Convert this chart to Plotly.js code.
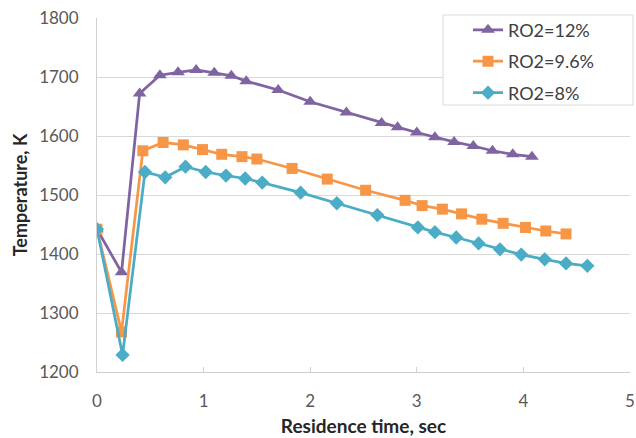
<!DOCTYPE html>
<html>
<head>
<meta charset="utf-8">
<script src="https://cdn.plot.ly/plotly-3.0.1.min.js"></script>
<style>html,body{margin:0;padding:0;background:#fff;}#chart{width:636px;height:438px;}</style>
</head>
<body>
<div id="chart"></div>
<script>
// RO2 = 12%
const x12 = [0, 0.23, 0.40, 0.59, 0.76, 0.93, 1.10, 1.26, 1.40, 1.70, 2.00, 2.34, 2.67, 2.82, 3.00, 3.17, 3.35, 3.53, 3.71, 3.90, 4.08];
const t12 = [1442, 1369, 1672, 1703, 1708, 1712, 1707, 1702, 1693, 1678, 1658, 1640, 1622, 1615, 1606, 1598, 1590, 1583, 1575, 1569, 1565];
// RO2 = 9.6%
const x96 = [0, 0.23, 0.43, 0.62, 0.81, 0.99, 1.17, 1.36, 1.50, 1.83, 2.16, 2.52, 2.89, 3.05, 3.24, 3.42, 3.61, 3.81, 4.02, 4.21, 4.40];
const t96 = [1442, 1268, 1575, 1589, 1585, 1577, 1569, 1565, 1561, 1545, 1527, 1508, 1491, 1482, 1476, 1468, 1459, 1452, 1445, 1439, 1434];
// RO2 = 8%
const x8 = [0, 0.24, 0.45, 0.64, 0.83, 1.02, 1.21, 1.39, 1.55, 1.91, 2.25, 2.63, 3.01, 3.17, 3.37, 3.58, 3.78, 3.98, 4.20, 4.40, 4.60];
const t8 = [1442, 1229, 1539, 1530, 1548, 1539, 1533, 1528, 1521, 1504, 1486, 1466, 1445, 1437, 1428, 1418, 1408, 1399, 1391, 1384, 1380];

const seriesNames = ['RO2=12%', 'RO2=9.6%', 'RO2=8%'];
const xTicks = [0, 1, 2, 3, 4, 5];
const yTicks = [1200, 1300, 1400, 1500, 1600, 1700, 1800];

const FONT = 'Lato, "Open Sans", sans-serif';

function tr(x, y, name, color, symbol, size, grp) {
  return {
    x: x, y: y, name: name, type: 'scatter', mode: 'lines+markers',
    line: {color: color, width: 2.75},
    marker: {color: color, symbol: symbol, size: size},
    legendgroup: grp
  };
}

const data = [
  tr(x12, t12, seriesNames[0], '#8064A2', 'triangle-up', 12, 'a'),
  tr(x96, t96, seriesNames[1], '#F79646', 'square', 11, 'b'),
  tr(x8, t8, seriesNames[2], '#4BACC6', 'diamond', 11, 'c')
];

const layout = {
  width: 636, height: 438,
  margin: {l: 97, r: 6, t: 18, b: 66},
  paper_bgcolor: '#fff', plot_bgcolor: '#fff',
  font: {family: FONT, color: '#595959', size: 17},
  showlegend: true,
  legend: {
    x: (468 - 97) / 533, xref: 'paper', y: 1.018, yanchor: 'top',
    bgcolor: 'rgba(0,0,0,0)', borderwidth: 0,
    font: {family: FONT, size: 18, color: '#404040'},
    tracegroupgap: 5, traceorder: 'grouped'
  },
  xaxis: {
    range: [0, 5], tickvals: xTicks, ticktext: xTicks.map(String),
    showgrid: false, zeroline: false,
    showline: true, linecolor: '#D0D0D0', linewidth: 1,
    ticks: 'inside', ticklen: 5, tickcolor: '#D0D0D0',
    ticklabelstandoff: 14,
    title: {text: '<b>Residence time, sec</b>', font: {family: FONT, size: 19, color: '#262626'}, standoff: 9}
  },
  yaxis: {
    range: [1200, 1800], tickvals: yTicks, ticktext: yTicks.map(String),
    showgrid: true, gridcolor: '#D9D9D9', gridwidth: 1,
    zeroline: false, showline: true, linecolor: '#D0D0D0', linewidth: 1,
    ticks: '', ticklabelstandoff: 14,
    title: {text: '<b>Temperature, K</b>', font: {family: FONT, size: 18, color: '#262626'}, standoff: 6}
  },
  shapes: [{
    type: 'rect', xref: 'paper', yref: 'paper',
    x0: (443 - 97) / 533, x1: (633 - 97) / 533,
    y0: (372 - 105) / 354, y1: (372 - 15) / 354,
    line: {color: '#D9D9D9', width: 1}, fillcolor: '#fff', layer: 'above'
  }]
};

Plotly.newPlot('chart', data, layout, {displayModeBar: false, staticPlot: true});
</script>
</body>
</html>
